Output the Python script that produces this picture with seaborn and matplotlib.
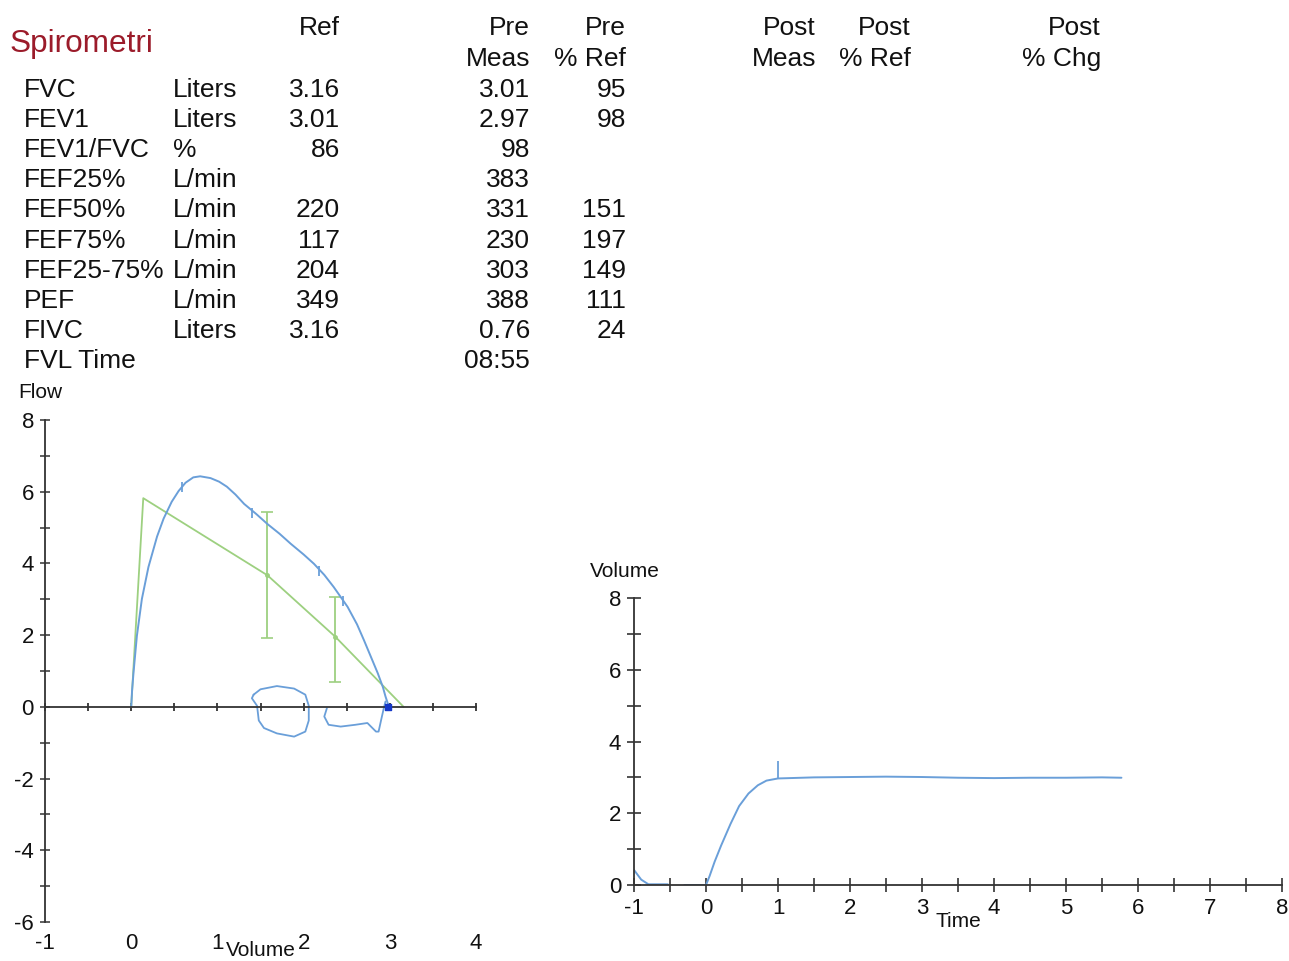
import numpy as np
import pandas as pd
import seaborn as sns
import matplotlib
matplotlib.use('Agg')
import matplotlib.pyplot as plt

# ---- table values ----
params = ['FVC', 'FEV1', 'FEV1/FVC', 'FEF25%', 'FEF50%', 'FEF75%', 'FEF25-75%', 'PEF', 'FIVC', 'FVL Time']
units = ['Liters', 'Liters', '%', 'L/min', 'L/min', 'L/min', 'L/min', 'L/min', 'Liters', '']
ref_vals = ['3.16', '3.01', '86', '', '220', '117', '204', '349', '3.16', '']
pre_meas = ['3.01', '2.97', '98', '383', '331', '230', '303', '388', '0.76', '08:55']
pre_pct = ['95', '98', '', '', '151', '197', '149', '111', '24', '']

# ---- flow-volume loop (measured) ----
fv_vol = [0, 0.01, 0.027, 0.066, 0.124, 0.20, 0.30, 0.376, 0.47, 0.55, 0.63, 0.72, 0.80,
          0.92, 1.02, 1.11, 1.21, 1.31, 1.45, 1.58, 1.72, 1.85, 2.0, 2.12, 2.24, 2.35,
          2.51, 2.62, 2.70, 2.78, 2.86, 2.92, 2.95, 2.99]
fv_flow = [0, 0.45, 0.96, 1.98, 3.01, 3.90, 4.75, 5.25, 5.72, 6.02, 6.25, 6.40, 6.43,
           6.38, 6.28, 6.14, 5.92, 5.66, 5.38, 5.1, 4.83, 4.55, 4.25, 3.99, 3.68, 3.34,
           2.79, 2.3, 1.86, 1.40, 0.94, 0.55, 0.29, 0]
mark_vol = [0.59, 1.40, 2.18, 2.46]
mark_flow = [6.12, 5.42, 3.78, 2.95]

# hand drawn loops under the axis
loop1_vol = [1.42, 1.50, 1.69, 1.89, 2.02, 2.06, 2.06, 2.02, 1.89, 1.69, 1.54, 1.48, 1.46, 1.40, 1.42]
loop1_flow = [0.34, 0.49, 0.58, 0.51, 0.34, 0.03, -0.38, -0.69, -0.83, -0.74, -0.59, -0.38, 0.03, 0.24, 0.34]
loop2_vol = [2.27, 2.24, 2.29, 2.43, 2.60, 2.74, 2.84, 2.87, 2.90, 2.93, 2.95]
loop2_flow = [-0.04, -0.27, -0.50, -0.55, -0.50, -0.45, -0.69, -0.69, -0.36, -0.04, 0.15]

# ---- flow-volume predicted ----
pred_vol = [0, 0.14, 1.58, 2.37, 3.16]
pred_flow = [0, 5.82, 3.67, 1.95, 0]
bar_vol = [1.58, 2.37]
bar_mid = [3.67, 1.95]
bar_lo = [1.92, 0.70]
bar_hi = [5.43, 3.06]

# ---- volume-time ----
vt_time = [-1.0, -0.9, -0.8, -0.53, -0.3, 0.0, 0.05, 0.12, 0.21, 0.34, 0.46, 0.59, 0.72, 0.84, 1.0,
           1.5, 2.0, 2.5, 3.0, 3.5, 4.0, 4.5, 5.0, 5.5, 5.77]
vt_vol = [0.42, 0.15, 0.02, 0.02, 0.0, 0.0, 0.25, 0.65, 1.1, 1.7, 2.2, 2.55, 2.78, 2.91, 2.97,
          3.0, 3.01, 3.02, 3.01, 2.99, 2.98, 2.99, 2.99, 3.0, 2.99]
vt_seg = [0, 0, 0, 0, 1, 1, 1, 1, 1, 1, 1, 1, 1, 1, 1,
          1, 1, 1, 1, 1, 1, 1, 1, 1, 1]

BLUE = '#6a9fd9'
GREEN = '#9dd080'
DARK = '#333333'
INK = '#111111'

sns.set_style('white')
plt.rcParams['font.family'] = ['Liberation Sans', 'DejaVu Sans']
plt.rcParams['axes.unicode_minus'] = False

W, H = 1289, 961
fig = plt.figure(figsize=(W / 100, H / 100), dpi=100)


def px(x, y):
    return x / W, 1 - y / H


# ---- header / table text ----
fs = 19
fig.text(*px(10, 52), 'Spirometri', fontsize=22.7, color='#9b1b2a', ha='left', va='baseline')
headers = [(340, ['Ref', '']), (530, ['Pre', 'Meas']), (626, ['Pre', '% Ref']),
           (816, ['Post', 'Meas']), (911, ['Post', '% Ref']), (1101, ['Post', '% Chg'])]
for xr, (l1, l2) in headers:
    fig.text(*px(xr, 35), l1, fontsize=fs, ha='right', va='baseline', color=INK)
    if l2:
        fig.text(*px(xr, 66), l2, fontsize=fs, ha='right', va='baseline', color=INK)

for i in range(len(params)):
    yb = 97 + 30.1 * i
    fig.text(*px(24, yb), params[i], fontsize=fs, ha='left', va='baseline', color=INK)
    fig.text(*px(173, yb), units[i], fontsize=fs, ha='left', va='baseline', color=INK)
    fig.text(*px(340, yb), ref_vals[i], fontsize=fs, ha='right', va='baseline', color=INK)
    fig.text(*px(530, yb), pre_meas[i], fontsize=fs, ha='right', va='baseline', color=INK)
    fig.text(*px(626, yb), pre_pct[i], fontsize=fs, ha='right', va='baseline', color=INK)

# ---- flow-volume axes ----
ax1 = fig.add_axes([45 / W, (H - 922) / H, 431 / W, 502 / H])
ax1.set_xlim(-1, 4)
ax1.set_ylim(-6, 8)
ax1.set_facecolor('none')

sns.lineplot(x=pred_vol, y=pred_flow, ax=ax1, color=GREEN, lw=1.3, sort=False, estimator=None)
ax1.errorbar(bar_vol, bar_mid,
             yerr=[np.subtract(bar_mid, bar_lo), np.subtract(bar_hi, bar_mid)],
             fmt='o', ms=2.5, color=GREEN, elinewidth=1.3, capsize=4, capthick=1.2)
sns.lineplot(x=fv_vol, y=fv_flow, ax=ax1, color=BLUE, lw=1.4, sort=False, estimator=None)
sns.lineplot(x=loop1_vol, y=loop1_flow, ax=ax1, color=BLUE, lw=1.3, sort=False, estimator=None)
sns.lineplot(x=loop2_vol, y=loop2_flow, ax=ax1, color=BLUE, lw=1.3, sort=False, estimator=None)
ax1.scatter(mark_vol, mark_flow, marker='|', s=50, color=BLUE, lw=1.3)
ax1.scatter([2.98], [0], marker='s', s=24, color='#1538c8', zorder=5)

for s in ['top', 'right']:
    ax1.spines[s].set_visible(False)
ax1.spines['bottom'].set_position(('data', 0))
for s in ['bottom', 'left']:
    ax1.spines[s].set_color(DARK)
    ax1.spines[s].set_linewidth(1.3)
ax1.set_xticks(np.arange(-1, 5, 1))
ax1.set_xticks(np.arange(-1, 4.5, 0.5), minor=True)
ax1.set_yticks(np.arange(-6, 9, 2))
ax1.set_yticks(np.arange(-6, 9, 1), minor=True)
ax1.tick_params(axis='x', which='both', bottom=True, direction='inout', length=6, width=1.3,
                color=DARK, labelbottom=False)
ax1.tick_params(axis='y', which='both', left=True, direction='inout', length=7, width=1.1,
                color=DARK, labelsize=16, labelcolor=INK, pad=4.5)
ax1.set_ylabel('Flow', rotation=0, fontsize=15, ha='center', va='center', color=INK)
ax1.yaxis.set_label_coords(-0.012, 1.054)
ax1.set_xlabel('Volume', fontsize=15, color=INK)
ax1.xaxis.set_label_coords(0.5, -0.038)

sec = ax1.secondary_xaxis('bottom')
sec.set_xticks(np.arange(-1, 5, 1))
sec.spines['bottom'].set_visible(False)
sec.tick_params(length=0, labelsize=16, labelcolor=INK, pad=8)

# ---- volume-time axes ----
ax2 = fig.add_axes([634 / W, (H - 885) / H, 648 / W, 287 / H])
ax2.set_xlim(-1, 8)
ax2.set_ylim(0, 8)
ax2.set_facecolor('none')

vt = pd.DataFrame({'Time': vt_time, 'Volume': vt_vol, 'seg': vt_seg})
sns.lineplot(data=vt, x='Time', y='Volume', units='seg', estimator=None, sort=False,
             ax=ax2, color=BLUE, lw=1.4)
ax2.vlines([1.0], [2.97], [3.45], color=BLUE, lw=1.3)

for s in ['top', 'right']:
    ax2.spines[s].set_visible(False)
for s in ['bottom', 'left']:
    ax2.spines[s].set_color(DARK)
    ax2.spines[s].set_linewidth(1.3)
ax2.set_xticks(np.arange(-1, 9, 1))
ax2.set_xticks(np.arange(-1, 8.5, 0.5), minor=True)
ax2.set_yticks(np.arange(0, 9, 2))
ax2.set_yticks(np.arange(0, 9, 1), minor=True)
ax2.tick_params(axis='both', which='both', bottom=True, left=True, direction='inout',
                length=10.5, width=1.2, color=DARK, labelsize=16, labelcolor=INK, pad=4)
ax2.set_xlabel('Time', fontsize=15, color=INK)
ax2.xaxis.set_label_coords(0.5, -0.095)
ax2.set_ylabel('Volume', rotation=0, fontsize=15, ha='center', va='center', color=INK)
ax2.yaxis.set_label_coords(-0.014, 1.091)

fig.savefig('out.png', dpi=100)
